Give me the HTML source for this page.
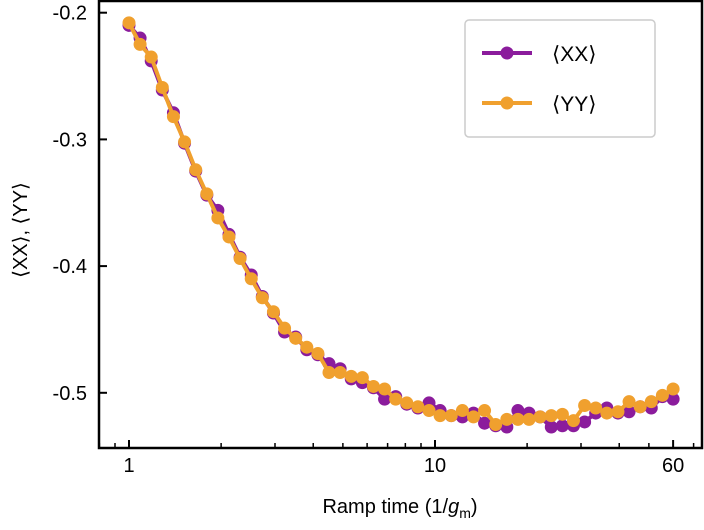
<!DOCTYPE html>
<html><head><meta charset="utf-8"><style>
body{margin:0;background:#fff;}
svg text{font-family:"Liberation Sans",sans-serif;fill:#000;}
</style></head><body>
<svg id="chart" width="704" height="525"></svg>
<script>
const times=[1,1.087,1.182,1.285,1.397,1.519,1.652,1.796,1.952,2.122,2.307,2.509,2.727,2.965,3.224,3.505,3.811,4.143,4.504,4.897,5.324,5.789,6.293,6.842,7.439,8.088,8.793,9.560,10.39,11.30,12.29,13.36,14.52,15.79,17.17,18.66,20.29,22.06,23.99,26.08,28.35,30.83,33.51,36.44,39.62,43.07,46.83,50.91,55.35,60.0];
const xxValues=[-0.210,-0.220,-0.238,-0.261,-0.279,-0.303,-0.325,-0.344,-0.356,-0.375,-0.393,-0.407,-0.424,-0.437,-0.452,-0.456,-0.466,-0.470,-0.477,-0.481,-0.489,-0.492,-0.496,-0.505,-0.503,-0.509,-0.512,-0.508,-0.514,-0.518,-0.519,-0.516,-0.524,-0.526,-0.527,-0.514,-0.516,-0.519,-0.527,-0.526,-0.526,-0.523,-0.516,-0.512,-0.516,-0.515,-0.511,-0.512,-0.503,-0.505];
const yyValues=[-0.208,-0.225,-0.235,-0.259,-0.282,-0.302,-0.324,-0.343,-0.362,-0.377,-0.394,-0.410,-0.425,-0.436,-0.449,-0.457,-0.464,-0.469,-0.484,-0.484,-0.487,-0.488,-0.495,-0.497,-0.505,-0.508,-0.511,-0.514,-0.518,-0.518,-0.514,-0.519,-0.514,-0.525,-0.521,-0.521,-0.521,-0.519,-0.518,-0.517,-0.522,-0.510,-0.512,-0.516,-0.515,-0.507,-0.511,-0.507,-0.502,-0.497];
const yTicks=[-0.2,-0.3,-0.4,-0.5];
const yTickLabels=["-0.2","-0.3","-0.4","-0.5"];
const xTicks=[1,10,60];
const xTickLabels=["1","10","60"];

const NS="http://www.w3.org/2000/svg";
const svg=document.getElementById('chart');
const L=99,R=702,T=1,B=448;
function xs(v){return 129+306*Math.log10(v);}
function ys(v){return 12.7+(-0.2-v)*1267;}
function mk(tag,attrs,parent){const e=document.createElementNS(NS,tag);for(const k in attrs)e.setAttribute(k,attrs[k]);(parent||svg).appendChild(e);return e;}

// series
function series(vals,color,name){
  const g=mk('g',{});
  
  
  const pts=vals.map((v,i)=>xs(times[i]).toFixed(1)+','+ys(v).toFixed(1)).join(' ');
  const pl=mk('polyline',{points:pts,fill:'none',stroke:color,'stroke-width':4,'stroke-linejoin':'round'},g);
  
  
  vals.forEach((v,i)=>{
    const c=mk('circle',{cx:xs(times[i]),cy:ys(v),r:6.5,fill:color},g);
    
    
  });
}
series(xxValues,'#8b1c9c','xx');
series(yyValues,'#f0a02e','yy');

// frame
const fr=mk('rect',{x:L,y:T,width:R-L,height:B-T,fill:'none',stroke:'#000','stroke-width':2.5});



// y ticks
yTicks.forEach((v,i)=>{
  const y=ys(v);
  const t=mk('line',{x1:L,x2:L+8,y1:y,y2:y,stroke:'#000','stroke-width':2});
  
  
  const tx=mk('text',{x:L-12,y:y+7,'text-anchor':'end','font-size':20});
  tx.textContent=yTickLabels[i];
  
  
});
// x ticks
xTicks.forEach((v,i)=>{
  const x=xs(v);
  const t=mk('line',{x1:x,x2:x,y1:B,y2:B-8,stroke:'#000','stroke-width':2});
  
  
  const tx=mk('text',{x:x,y:472,'text-anchor':'middle','font-size':20});
  tx.textContent=xTickLabels[i];
  
  
});
[0.8,0.9,2,3,4,5,6,7,8,9,20,30,40,50,70].forEach(v=>{
  const x=xs(v); if(x<=L||x>=R)return;
  const t=mk('line',{x1:x,x2:x,y1:B,y2:B-5,stroke:'#000','stroke-width':1.5});
  
  
});
</script>
<svg width="704" height="525" style="position:absolute;left:0;top:0">
<text x="400" y="513" text-anchor="middle" font-size="20">Ramp time (1/<tspan font-style="italic">g</tspan><tspan font-size="14" dy="5">m</tspan><tspan dy="-5">)</tspan></text>
<text transform="translate(27,230) rotate(-90)" text-anchor="middle" font-size="20">⟨XX⟩, ⟨YY⟩</text>
<g>
<rect x="465" y="20" width="190" height="117" rx="4" fill="#fff" stroke="#ccc" stroke-width="1.5"/>
<g>
<line x1="482" x2="532" y1="53" y2="53" stroke="#8b1c9c" stroke-width="4"/><circle cx="507" cy="53" r="6.5" fill="#8b1c9c"/>
<text x="552" y="61" font-size="21">⟨XX⟩</text></g>
<g>
<line x1="482" x2="532" y1="103" y2="103" stroke="#f0a02e" stroke-width="4"/><circle cx="507" cy="103" r="6.5" fill="#f0a02e"/>
<text x="552" y="111" font-size="21">⟨YY⟩</text></g>
</g>
</svg>
</body></html>
